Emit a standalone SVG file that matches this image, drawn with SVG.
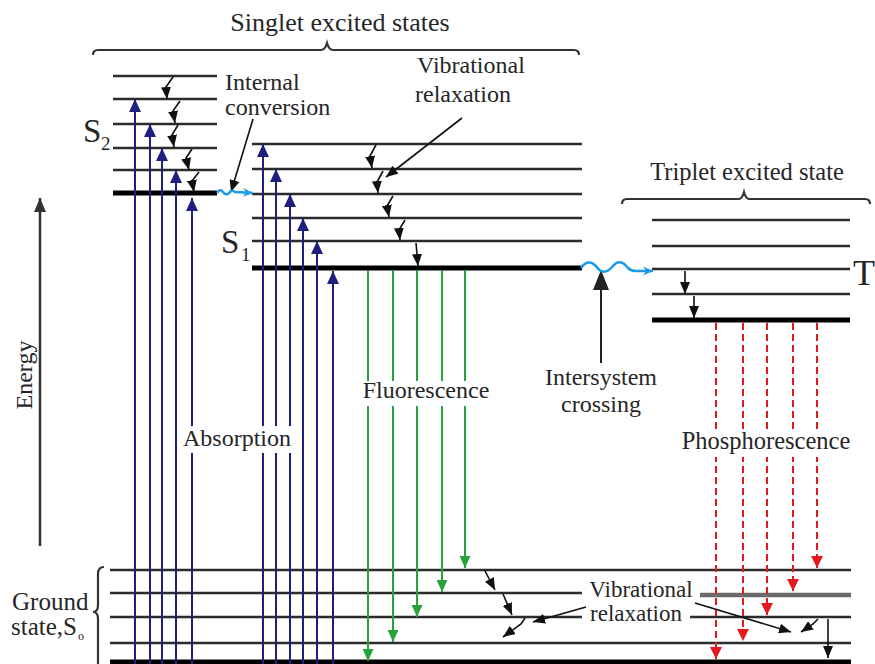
<svg xmlns="http://www.w3.org/2000/svg" width="875" height="664" viewBox="0 0 875 664">
<style>
text{font-family:"Liberation Serif","Times New Roman",Times,"DejaVu Serif","Noto Serif",serif;font-size:24px;fill:#262626}
.thin{stroke:#2b2b2b;stroke-width:2.5;fill:none}
.thick{stroke:#000;stroke-width:5;fill:none}
.brace{stroke:#333;stroke-width:2.2;fill:none}
.abs{stroke:#1f1f80;stroke-width:2;fill:none;marker-end:url(#ah-navy)}
.flu{stroke:#27a33a;stroke-width:2;fill:none;marker-end:url(#ah-green)}
.pho{stroke:#e3191f;stroke-width:2;fill:none;stroke-dasharray:7 4;marker-end:url(#ah-red)}
.vr{stroke:#111;stroke-width:1.6;fill:none;marker-end:url(#ah-black)}
.bg{fill:#ffffff}
.wave{stroke:#1a9be6;stroke-width:2.5;fill:none;marker-end:url(#ah-lblue)}
</style>
<defs>
<marker id="ah-navy" viewBox="0 0 13 12" refX="13" refY="6" markerWidth="13" markerHeight="12" markerUnits="userSpaceOnUse" orient="auto"><path d="M0,0 L13,6 L0,12 z" fill="#1f1f80"/></marker>
<marker id="ah-green" viewBox="0 0 12 11" refX="12" refY="5.5" markerWidth="12" markerHeight="11" markerUnits="userSpaceOnUse" orient="auto"><path d="M0,0 L12,5.5 L0,11 z" fill="#27a33a"/></marker>
<marker id="ah-red" viewBox="0 0 12 12" refX="12" refY="6" markerWidth="12" markerHeight="12" markerUnits="userSpaceOnUse" orient="auto"><path d="M0,0 L12,6 L0,12 z" fill="#e3191f"/></marker>
<marker id="ah-black" viewBox="0 0 12 10" refX="12" refY="5" markerWidth="12" markerHeight="10" markerUnits="userSpaceOnUse" orient="auto"><path d="M0,0 L12,5 L0,10 z" fill="#111"/></marker>
<marker id="ah-energy" viewBox="0 0 14 12" refX="14" refY="6" markerWidth="14" markerHeight="12" markerUnits="userSpaceOnUse" orient="auto"><path d="M0,0 L14,6 L0,12 z" fill="#333"/></marker>
<marker id="ah-isc" viewBox="0 0 20 16" refX="20" refY="8" markerWidth="20" markerHeight="16" markerUnits="userSpaceOnUse" orient="auto"><path d="M0,0 L20,8 L0,16 z" fill="#222"/></marker>
<marker id="ah-lblue" viewBox="0 0 10 9" refX="10" refY="4.5" markerWidth="10" markerHeight="9" markerUnits="userSpaceOnUse" orient="auto"><path d="M0,0 L10,4.5 L0,9 L3,4.5 z" fill="#1a9be6"/></marker>
</defs>
<rect x="0" y="0" width="875" height="664" fill="#ffffff"/>

<g id="singlet-brace">
<path class="brace" d="M93,55 Q93,50 98,50 L321,50 Q325,50 327,43 Q329,50 333,50 L574,50 Q579,50 579,55"/>
<text x="340" y="31" text-anchor="middle" style="font-size:26px">Singlet excited states</text>
</g>

<g id="triplet-brace">
<path class="brace" d="M622,204 Q622,199 627,199 L739,199 Q742,199 744,192 Q746,199 749,199 L865,199 Q870,199 870,204"/>
<text x="747" y="180" text-anchor="middle" style="font-size:24.5px">Triplet excited state</text>
</g>

<g id="S2">
<path class="thin" d="M113,76H217M113,99H217M113,124H217M113,148H217M113,170H217"/>
<path class="thick" d="M113,193H217"/>
<text x="83" y="142" style="font-size:33px">S</text>
<text x="101" y="150" style="font-size:19px">2</text>
</g>

<g id="S1">
<path class="thin" d="M252,144H582M252,169H582M252,194H582M252,218H582M252,241H582"/>
<path class="thick" d="M252,268H582"/>
<text x="221" y="253" style="font-size:33px">S</text>
<text x="241" y="261" style="font-size:19px">1</text>
</g>

<g id="T1">
<path class="thin" d="M652,220H850M652,246H850M652,269H850M652,294H850"/>
<path class="thick" d="M652,320H850"/>
<text x="853" y="285" style="font-size:36px">T</text>
</g>

<g id="S0">
<path class="thin" d="M110,570H851M110,593H582M110,617H582M690,617H851M110,643H851"/>
<path d="M700,595H851" stroke="#6a6a6a" stroke-width="4.5" fill="none"/>
<path class="thick" d="M110,662H851"/>
<path class="brace" d="M104,567 Q98,567 98,574 L98,605 Q98,612 93,612 Q98,612 98,619 L98,666"/>
<text x="12" y="610" style="font-size:25px">Ground</text>
<text x="11" y="635" style="font-size:25px">state,S</text>
<text x="78" y="640" style="font-size:12px">o</text>
</g>

<g id="energy-axis">
<line x1="40" y1="546" x2="40" y2="198" stroke="#333" stroke-width="2.5" marker-end="url(#ah-energy)"/>
<text transform="translate(32,375) rotate(-90)" text-anchor="middle">Energy</text>
</g>

<g id="connectors">
<line class="abs" x1="135" y1="666" x2="135" y2="99"/>
<line class="abs" x1="150" y1="666" x2="150" y2="124"/>
<line class="abs" x1="162" y1="666" x2="162" y2="148"/>
<line class="abs" x1="176" y1="666" x2="176" y2="170"/>
<line class="abs" x1="192" y1="666" x2="192" y2="198"/>
<line class="abs" x1="263" y1="666" x2="263" y2="144"/>
<line class="abs" x1="276" y1="666" x2="276" y2="169"/>
<line class="abs" x1="290" y1="666" x2="290" y2="194"/>
<line class="abs" x1="303" y1="666" x2="303" y2="218"/>
<line class="abs" x1="317" y1="666" x2="317" y2="241"/>
<line class="abs" x1="333" y1="666" x2="333" y2="271"/>
<line class="flu" x1="368" y1="270" x2="368" y2="661"/>
<line class="flu" x1="393" y1="270" x2="393" y2="642"/>
<line class="flu" x1="417" y1="270" x2="417" y2="617"/>
<line class="flu" x1="442" y1="270" x2="442" y2="592"/>
<line class="flu" x1="465" y1="270" x2="465" y2="568"/>
<line class="pho" x1="716" y1="323" x2="716" y2="659"/>
<line class="pho" x1="743" y1="323" x2="743" y2="641"/>
<line class="pho" x1="767" y1="323" x2="767" y2="615"/>
<line class="pho" x1="793" y1="323" x2="793" y2="591"/>
<line class="pho" x1="817" y1="323" x2="817" y2="568"/>
<path class="vr" d="M173,77 L166,87 L167,99"/>
<path class="vr" d="M180,101 L173,111 L175,123"/>
<path class="vr" d="M178,125 L172,135 L174,147"/>
<path class="vr" d="M192,149 L186,158 L189,170"/>
<path class="vr" d="M199,172 L192,181 L194,192"/>
<path class="vr" d="M376,145 L370,156 L372,168"/>
<path class="vr" d="M383,171 L377,182 L378,193"/>
<path class="vr" d="M393,196 L387,206 L389,217"/>
<path class="vr" d="M405,220 L399,230 L400,240"/>
<path class="vr" d="M416,243 L417,254 L418,266"/>
<path class="vr" d="M685,271 V294"/>
<path class="vr" d="M694,296 V318"/>
<path class="vr" d="M485,571 L495,590"/>
<path class="vr" d="M503,594 L512,615"/>
<path class="vr" d="M525,618 L521,624 L503,637"/>
<path class="vr" d="M818,619 L813,624 L801,632"/>
<path class="vr" d="M828,619 V658"/>
<path class="vr" d="M253,119 L231,192"/>
<path class="vr" d="M462,118 L386,177"/>
<path class="vr" d="M586,607 L533,622"/>
<path class="vr" d="M695,603 L791,632"/>
<line x1="601" y1="363" x2="601" y2="270" stroke="#222" stroke-width="2" marker-end="url(#ah-isc)"/>
<path class="wave" d="M217,193 q3,-5 6,-1 q3,4 6,1 q3,-4 6,-1 L253,193"/>
<path class="wave" d="M581,268 Q588,258 596,266 Q603,277 612,267 Q620,257 628,268 Q631,271 636,271 L653,271"/>
</g>

<g id="labels">
<text x="225" y="90">Internal</text>
<text x="225" y="115">conversion</text>
<text x="417" y="73">Vibrational</text>
<text x="415" y="102">relaxation</text>
<rect class="bg" x="180" y="426" width="114" height="27"/>
<text x="237" y="446" text-anchor="middle">Absorption</text>
<rect class="bg" x="360" y="381" width="132" height="25"/>
<text x="426" y="398" text-anchor="middle">Fluorescence</text>
<text x="601" y="385" text-anchor="middle">Intersystem</text>
<text x="601" y="412" text-anchor="middle">crossing</text>
<rect class="bg" x="679" y="429" width="174" height="28"/>
<text x="766" y="449" text-anchor="middle" style="font-size:24.5px">Phosphorescence</text>
<text x="641" y="597" text-anchor="middle" style="font-size:23px">Vibrational</text>
<text x="636" y="621" text-anchor="middle" style="font-size:23px">relaxation</text>
</g>
</svg>
